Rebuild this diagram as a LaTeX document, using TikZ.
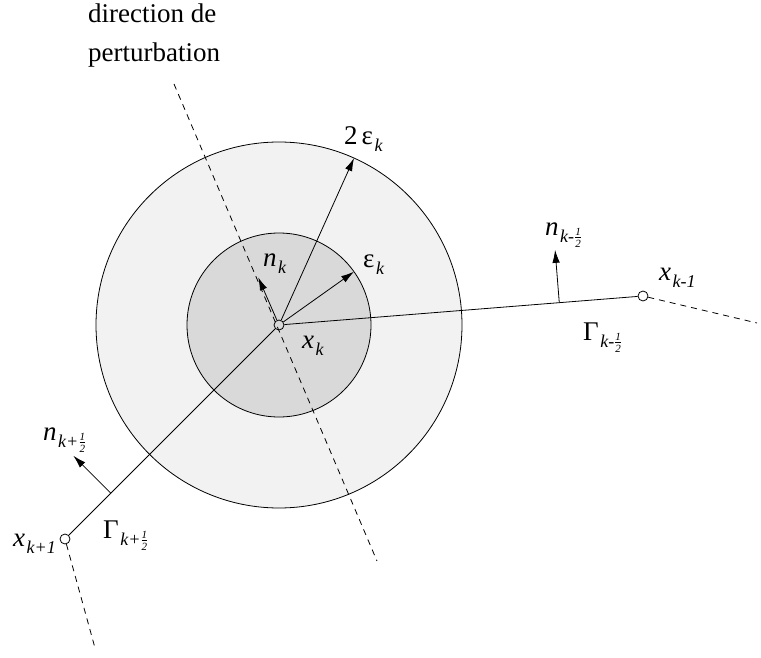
\documentclass[tikz,border=0pt]{standalone}
\usepackage{fontspec}
\setmainfont{Liberation Serif}
\usetikzlibrary{calc,arrows.meta}
\newcommand\sbs[1]{\kern1.5pt\raisebox{-7pt}{\fontsize{18}{18}\selectfont\itshape #1}}
\newcommand\hlf{\ensuremath{\frac{\mbox{\fontsize{11}{11}\selectfont\itshape 1}}{\mbox{\fontsize{11}{11}\selectfont\itshape 2}}}}
\tikzset{
  lbl/.style={anchor=base west, inner sep=0pt, font=\fontsize{27}{27}\selectfont},
  ptnode/.style={circle, draw, fill=none, inner sep=0pt, minimum size=10pt, line width=0.8pt},
  dsh/.style={line width=0.8pt, dash pattern=on 6pt off 5pt},
  seg/.style={line width=0.8pt},
  arr/.style={line width=0.8pt, -{Latex[length=13pt,width=7.5pt]}},
}
\definecolor{outerg}{gray}{0.95}
\definecolor{innerg}{gray}{0.85}
\begin{document}
\begin{tikzpicture}[x=1pt,y=-1pt]
\useasboundingbox (0,0) rectangle (761,658);
\coordinate (cc) at (279,325);
\fill[outerg] (cc) circle[radius=183];
\draw[seg] (cc) circle[radius=183];
\fill[innerg] (cc) circle[radius=92];
\draw[seg] (cc) circle[radius=92];
\node[ptnode] (c) at (cc) {};
\node[ptnode] (km1) at (643,296) {};
\node[ptnode] (kp1) at (65,539) {};
\coordinate (ptop) at (174,84);
\coordinate (pbot) at (377,561);
\coordinate (em1) at (757,323);
\coordinate (ep1) at (95,648);
\draw[dsh] (ptop) -- (pbot);
\draw[dsh] (km1) -- (em1);
\draw[dsh] (kp1) -- (ep1);
\draw[seg] (c) -- (km1);
\draw[seg] (c) -- (kp1);
\coordinate (t2) at ($(cc)+(-65.8:183)$);
\coordinate (t1) at ($(cc)+(-35.4:92)$);
\coordinate (tn) at ($(cc)!52pt!(ptop)$);
\draw[arr] (c) -- (t2);
\draw[arr] (c) -- (t1);
\draw[arr] (c) -- (tn);
\coordinate (bm) at ($(cc)!0.77!(km1)$);
\coordinate (tm) at ($(bm)!53pt!90:(km1)$);
\draw[arr] (bm) -- (tm);
\coordinate (bp) at ($(cc)!0.786!(kp1)$);
\coordinate (tp) at ($(bp)!53pt!90:(cc)$);
\draw[arr] (bp) -- (tp);
\node[lbl] (title1) at (88,23) {direction de};
\node[lbl] (title2) at (88,62) {perturbation};
\node[lbl] (l2e) at (344,145) {2\kern4pt ε\sbs{k}};
\node[lbl] (le) at (363,267) {ε\sbs{k}};
\node[lbl] (lnk) at (263,266) {\itshape n\sbs{k}};
\node[lbl] (lxk) at (302,348) {\itshape x\sbs{k}};
\node[lbl] (lnm) at (545,235) {\itshape n\sbs{k-\hlf}};
\node[lbl] (lxm) at (659,280) {\itshape x\sbs{k-1}};
\node[lbl] (lgm) at (583,340) {Γ\sbs{k-\hlf}};
\node[lbl] (lnp) at (43,440) {\itshape n\sbs{k+\hlf}};
\node[lbl] (lgp) at (103,538) {Γ\sbs{k+\hlf}};
\node[lbl] (lxp) at (13,546) {\itshape x\sbs{k+1}};
\end{tikzpicture}
\end{document}
